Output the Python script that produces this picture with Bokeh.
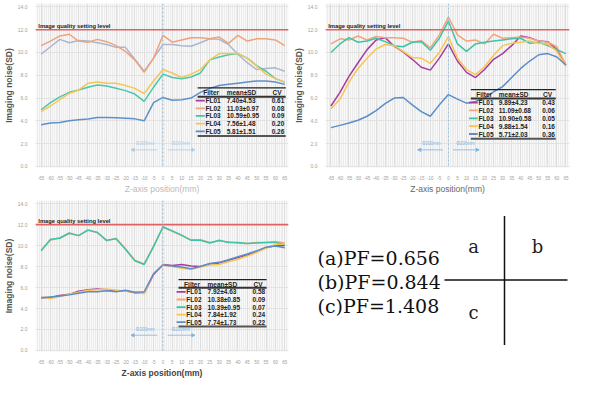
from bokeh.plotting import figure
from bokeh.layouts import column, row
from bokeh.models import (Range1d, Span, Label, FixedTicker, PrintfTickFormatter,
                          Arrow, NormalHead, ColumnDataSource)
from bokeh.core.properties import value
from bokeh.embed import file_html
from bokeh.resources import INLINE

# ---------------- data ----------------
positions = [-65, -60, -55, -50, -45, -40, -35, -30, -25, -20, -15, -10, -5, 0,
             5, 10, 15, 20, 25, 30, 35, 40, 45, 50, 55, 60, 65]
y_ticks = [0, 2, 4, 6, 8, 10, 12, 14]
quality_level = 12.0
filters = ["FL01", "FL02", "FL03", "FL04", "FL05"]
header = ["Filter", "mean±SD", "CV"]

# panel (a)  PF=0.656
a_fl01 = [9.85, 10.5, 11.15, 10.85, 11.05, 11.0, 10.85, 10.7, 10.45, 10.45, 9.4, 8.35, 9.5, 10.7,
          10.7, 10.6, 10.55, 10.85, 11.2, 11.15, 10.7, 9.85, 9.1, 8.5, 8.6, 8.65, 8.35]
a_fl02 = [10.6, 11.0, 11.45, 11.6, 11.0, 10.9, 11.15, 10.95, 10.6, 10.1, 9.35, 8.25, 9.5, 11.5,
          10.9, 11.1, 11.3, 11.3, 11.2, 11.35, 10.8, 11.5, 11.0, 11.2, 11.2, 11.1, 10.6]
a_fl03 = [4.97, 5.6, 6.1, 6.5, 6.7, 6.95, 7.15, 7.05, 6.85, 6.65, 6.35, 5.7, 6.95, 8.1,
          7.8, 7.7, 7.85, 8.2, 9.35, 9.6, 9.8, 9.9, 9.5, 8.85, 8.35, 7.7, 7.4]
a_fl04 = [4.8, 5.3, 5.85, 6.4, 6.7, 7.3, 7.4, 7.3, 7.3, 7.1, 6.85, 6.4, 7.5, 8.5,
          8.2, 7.8, 8.1, 8.5, 9.35, 9.9, 9.9, 9.9, 9.5, 8.8, 8.1, 7.7, 7.4]
a_fl05 = [3.65, 3.8, 3.85, 4.0, 4.1, 4.15, 4.3, 4.3, 4.27, 4.22, 4.17, 4.0, 5.6, 6.05,
          5.8, 5.85, 6.0, 6.5, 6.85, 7.1, 7.2, 7.3, 7.4, 7.5, 7.5, 7.4, 7.2]
a_means = ["7.40±4.53", "11.03±0.97", "10.59±0.95", "7.56±1.48", "5.81±1.51"]
a_cvs = ["0.61", "0.08", "0.09", "0.20", "0.26"]

# panel (b)  PF=0.844
b_fl01 = [5.3, 6.5, 7.9, 9.1, 10.25, 11.1, 11.3, 10.55, 10.05, 9.4, 8.7, 8.45, 9.5, 10.75,
          9.25, 8.25, 7.8, 8.5, 9.4, 9.9, 10.6, 11.45, 11.3, 11.0, 10.95, 10.25, 8.9]
b_fl02 = [10.75, 11.2, 11.1, 11.45, 11.1, 11.4, 11.3, 11.3, 11.25, 10.9, 11.05, 10.4, 11.55, 13.1,
          11.55, 11.0, 11.1, 10.75, 11.6, 11.25, 11.3, 11.35, 11.25, 11.0, 10.9, 10.5, 8.9]
b_fl03 = [10.0, 10.75, 11.3, 10.9, 11.0, 11.25, 10.95, 10.6, 10.5, 10.9, 10.95, 10.2, 11.25, 12.75,
          10.75, 10.1, 10.75, 10.9, 11.0, 11.1, 11.2, 11.25, 10.8, 10.9, 10.6, 10.25, 9.9]
b_fl04 = [5.05, 5.9, 7.4, 8.6, 9.5, 10.3, 10.7, 10.6, 10.1, 9.55, 9.5, 9.05, 10.0, 11.4,
          9.5, 8.5, 8.05, 8.75, 9.75, 10.6, 10.8, 10.9, 11.0, 10.8, 10.75, 10.1, 8.75]
b_fl05 = [3.4, 3.6, 3.8, 4.05, 4.4, 4.9, 5.5, 6.0, 6.05, 5.4, 4.8, 4.4, 5.4, 6.3,
          5.9, 5.55, 5.7, 6.0, 6.55, 7.0, 7.8, 8.6, 9.25, 9.8, 9.9, 9.6, 8.9]
b_means = ["9.89±4.23", "11.09±0.68", "10.90±0.58", "9.88±1.54", "5.71±2.03"]
b_cvs = ["0.43", "0.06", "0.05", "0.16", "0.36"]

# panel (c)  PF=1.408
c_fl01 = [5.05, 5.05, 5.25, 5.35, 5.65, 5.8, 5.85, 5.8, 5.7, 5.7, 5.5, 5.45, 7.25, 8.2,
          8.1, 8.2, 8.05, 8.0, 8.25, 8.35, 8.6, 8.85, 9.1, 9.4, 9.8, 10.0, 10.0]
c_fl02 = [9.55, 10.5, 10.75, 11.15, 10.95, 11.45, 11.25, 10.45, 10.7, 9.7, 8.6, 8.25, 9.95, 11.75,
          11.35, 10.95, 10.55, 10.55, 10.3, 10.45, 10.35, 10.25, 10.2, 10.3, 10.3, 10.4, 10.25]
c_fl03 = [9.5, 10.6, 10.7, 11.2, 10.95, 11.5, 11.25, 10.5, 10.65, 9.65, 8.55, 8.2, 9.9, 11.8,
          11.4, 11.0, 10.5, 10.5, 10.25, 10.5, 10.3, 10.3, 10.2, 10.25, 10.3, 10.3, 10.1]
c_fl04 = [5.1, 4.95, 5.15, 5.35, 5.55, 5.75, 5.8, 5.85, 5.75, 5.65, 5.55, 5.4, 7.35, 8.15,
          8.0, 7.85, 7.75, 7.95, 8.15, 8.2, 8.45, 8.7, 9.0, 9.35, 9.75, 10.1, 10.15]
c_fl05 = [5.0, 5.1, 5.2, 5.3, 5.45, 5.6, 5.6, 5.7, 5.6, 5.75, 5.55, 5.6, 7.3, 8.15,
          8.05, 7.95, 7.8, 8.0, 8.3, 8.4, 8.65, 8.95, 9.2, 9.5, 9.85, 9.95, 9.8]
c_means = ["7.92±4.63", "10.38±0.85", "10.39±0.95", "7.84±1.92", "7.74±1.73"]
c_cvs = ["0.58", "0.09", "0.07", "0.24", "0.22"]

pf_labels = ["(a)PF=0.656", "(b)PF=0.844", "(c)PF=1.408"]
quadrant_labels = ["a", "b", "c"]
arrow_text = "Φ200mm"

filter_colors = ["#a63c9f", "#f2a57c", "#3fc3a6", "#f6c552", "#5b8dca"]
a_colors = ["#aab7cf", "#f0a27a", "#4cc6ac", "#f5c65a", "#5f90c9"]

SANS = "Liberation Sans"


def make_panel(width, height, left, right, top, bottom, series, line_colors,
               means, cvs, tab_x0, tab_top, tab_dy, xlab_color, xlab_bold, arrows_light):
    p = figure(width=width, height=height, output_backend="svg", toolbar_location=None,
               x_range=Range1d(-68, 67), y_range=Range1d(-0.1, 14.3),
               min_border_left=left, min_border_right=right,
               min_border_top=top, min_border_bottom=bottom)
    p.background_fill_color = "#f9f9f9"
    p.border_fill_color = "white"
    p.outline_line_color = None

    xt = FixedTicker(ticks=positions, minor_ticks=list(range(-68, 68)))
    p.xaxis.ticker = xt
    p.xgrid.ticker = xt
    p.xaxis.major_label_overrides = {v: str(v) for v in positions}
    p.yaxis.ticker = FixedTicker(ticks=y_ticks)
    p.yaxis.formatter = PrintfTickFormatter(format="%.1f")
    p.xgrid.grid_line_color = "#dedede"
    p.xgrid.minor_grid_line_color = "#ececec"
    p.ygrid.grid_line_color = "#e2e2e2"
    for ax in (p.xaxis, p.yaxis):
        ax.axis_line_color = None
        ax.major_tick_line_color = None
        ax.minor_tick_line_color = None
        ax.major_label_text_color = "#a0a0a0"
        ax.major_label_text_font = SANS
        ax.major_label_standoff = 2
        ax.axis_label_standoff = 1
    p.xaxis.major_label_text_font_size = "4.5px"
    p.yaxis.major_label_text_font_size = "5px"
    p.yaxis.axis_label = "Imaging noise(SD)"
    p.yaxis.axis_label_text_font = SANS
    p.yaxis.axis_label_text_font_style = "bold"
    p.yaxis.axis_label_text_font_size = "8.5px"
    p.yaxis.axis_label_text_color = "#555555"
    p.xaxis.axis_label = "Z-axis position(mm)"
    p.xaxis.axis_label_text_font = SANS
    p.xaxis.axis_label_text_font_style = "bold" if xlab_bold else "normal"
    p.xaxis.axis_label_text_font_size = "8.5px"
    p.xaxis.axis_label_text_color = xlab_color

    # quality level line and centre line
    p.add_layout(Span(location=quality_level, dimension="width",
                      line_color="#e06262", line_width=1.6))
    p.add_layout(Span(location=0, dimension="height", line_color="#8ec0e6",
                      line_dash="2 2", line_width=1))
    p.add_layout(Label(x=-66.5, y=quality_level, y_offset=1, text="Image quality setting level",
                       text_font=SANS, text_font_style="bold", text_font_size="5.8px",
                       text_color="#222222", text_baseline="bottom"))

    # arrows
    acol = "#a9cdec" if arrows_light else "#7fb4e2"
    for xs, xe, xt_ in ((-3, -17, -9.5), (2.5, 17, 9.5)):
        p.add_layout(Arrow(end=NormalHead(size=3, fill_color=acol, line_color=acol),
                           x_start=xs, y_start=1.45, x_end=xe, y_end=1.45,
                           line_color=acol, line_width=0.8))
        p.add_layout(Label(x=xt_, y=1.75, text=arrow_text, text_font=SANS,
                           text_font_size="4.5px", text_color=acol,
                           text_align="center", text_baseline="bottom"))

    # series lines
    for ys, col in zip(series, line_colors):
        p.line(positions, ys, line_color=col, line_width=1.5)

    # stats table
    x1 = tab_x0 + 47
    header_y = tab_top - 0.45
    rows_y = [header_y - tab_dy * (i + 1) for i in range(len(filters))]
    bottom_y = rows_y[-1] - 0.42
    p.segment(x0=[tab_x0, tab_x0, tab_x0], y0=[tab_top, tab_top - 0.78, bottom_y],
              x1=[x1, x1, x1], y1=[tab_top, tab_top - 0.78, bottom_y],
              line_color=["#222222", "#333333", "#555555"], line_width=[1.2, 2.0, 2.0])
    p.text(x=[tab_x0 + 3, tab_x0 + 15.5, tab_x0 + 40], y=[header_y] * 3, text=header,
           text_font=value(SANS), text_font_style="bold", text_font_size="6.5px",
           text_color="#222222", text_baseline="middle")
    p.segment(x0=[tab_x0 - 1] * 5, y0=rows_y, x1=[tab_x0 + 3.8] * 5, y1=rows_y,
              line_color=filter_colors, line_width=1.8)
    src = ColumnDataSource(dict(y=rows_y, f=filters, m=means, c=cvs))
    for key, xx in (("f", tab_x0 + 4.2), ("m", tab_x0 + 15.5), ("c", tab_x0 + 39.5)):
        p.text(x=xx, y="y", text=key, source=src, text_font=value(SANS),
               text_font_style="bold", text_font_size="6.5px", text_color="#222222",
               text_baseline="middle")
    return p


pa = make_panel(290, 196, 26, 2, 3, 18,
                [a_fl01, a_fl02, a_fl03, a_fl04, a_fl05], a_colors,
                a_means, a_cvs, 18.5, 6.9, 0.675, "#bbbbbb", False, True)
pb = make_panel(283, 196, 22, 4, 3, 18,
                [b_fl01, b_fl02, b_fl03, b_fl04, b_fl05], filter_colors,
                b_means, b_cvs, 12.4, 6.74, 0.69, "#666666", False, False)
pc = make_panel(290, 184, 26, 2, 4, 17,
                [c_fl01, c_fl02, c_fl03, c_fl04, c_fl05],
                [filter_colors[0], filter_colors[1], filter_colors[2], filter_colors[3], filter_colors[4]],
                c_means, c_cvs, 8.3, 6.75, 0.72, "#444444", True, False)

# panel (d): PF key
pd_ = figure(width=283, height=184, output_backend="svg", toolbar_location=None,
             x_range=Range1d(0, 283), y_range=Range1d(0, 184),
             min_border=0)
pd_.axis.visible = False
pd_.grid.visible = False
pd_.outline_line_color = None
pd_.text(x=[27, 27, 27], y=[114, 85, 56], text=pf_labels,
         text_font=value("DejaVu Serif"), text_font_size="19px",
         text_baseline="middle", text_align="left", text_color="#111111")
pd_.text(x=[183, 247, 183], y=[128, 128, 47], text=quadrant_labels,
         text_font=value("DejaVu Serif"), text_font_size="18px",
         text_baseline="middle", text_align="center", text_color="#222222")
pd_.segment(x0=[214, 154], y0=[165, 87], x1=[214, 277], y1=[8, 87],
            line_color="#111111", line_width=1.5)

layout = column(row(pa, pb), row(pc, pd_))
open("out.html", "w").write(file_html(layout, INLINE))
